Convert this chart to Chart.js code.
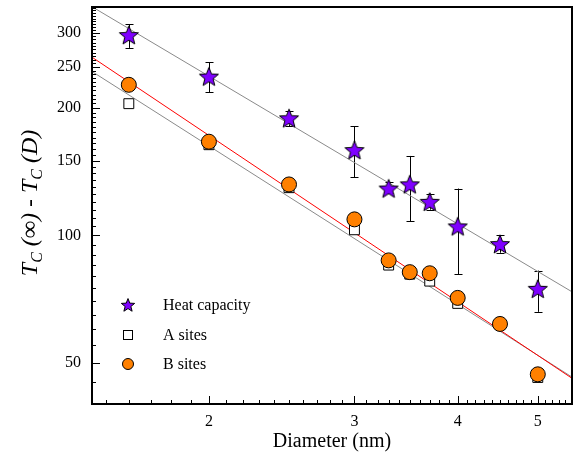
<!DOCTYPE html>
<html><head><meta charset="utf-8">
<script src="https://cdn.jsdelivr.net/npm/chart.js@4/dist/chart.umd.min.js"></script>
<style>html,body{margin:0;padding:0;background:#fff;} #wrap{width:575px;height:464px;position:relative;}</style>
</head><body><div id="wrap"><canvas id="c" width="575" height="464"></canvas></div>
<script>
// ---- data ----
const diameters = [1.6, 2.0, 2.5, 3.0, 3.3, 3.5, 3.7, 4.0, 4.5, 5.0];
const heatCapacity = [297, 237, 189, 159, 129, 132, 120, 105, 95.4, 74.8];
const heatErrHigh = [315, 256, 197, 181, 134, 154, 125.5, 129, 100, 82.6];
const heatErrLow = [277, 218, 181, 137, 126, 108, 115, 81, 91, 66];
const aSites = [204.6, 163.7, 129.6, 103.1, 85.1, 81.0, 78.0, 69.1, 61.6, 46.2];
const bSites = [226.7, 166.4, 131.9, 109.1, 87.3, 81.9, 81.4, 71.2, 61.8, 47.0];
const fitX = [1.444, 5.5];
const fitHeat = [346.5, 73.6];
const fitA = [243.7, 46.3];
const fitB = [263.4, 46.0];
const xTicks = [2, 3, 4, 5];
const yTicks = [50, 100, 150, 200, 250, 300];
const seriesLabels = ['Heat capacity', 'A sites', 'B sites'];
const xTitle = 'Diameter (nm)';

const PURPLE = '#7f00ff', ORANGE = '#ff8000';
const SERIF = '"Liberation Serif", "Times New Roman", serif';

function makeStar(R, fill) {
  const s = Math.ceil(R * 2 + 4);
  const c = document.createElement('canvas'); c.width = s; c.height = s;
  const g = c.getContext('2d');
  const cx = s / 2, cy = s / 2 + R * 0.08, r = R * 0.43;
  g.beginPath();
  for (let i = 0; i < 10; i++) {
    const a = -Math.PI / 2 + i * Math.PI / 5;
    const rr = i % 2 ? r : R;
    g.lineTo(cx + rr * Math.cos(a), cy + rr * Math.sin(a));
  }
  g.closePath(); g.fillStyle = fill; g.fill();
  g.lineWidth = 1; g.strokeStyle = '#000'; g.lineJoin = 'miter'; g.stroke();
  return c;
}
const starImg = makeStar(10, PURPLE);
const starLegend = makeStar(7, PURPLE);

const pts = (xs, ys) => xs.map((x, i) => ({x: x, y: ys[i]}));

const deco = {
  id: 'deco',
  beforeDatasetsDraw(chart) {
    const ctx = chart.ctx, xs = chart.scales.x, ys = chart.scales.y;
    ctx.save();
    ctx.strokeStyle = '#000'; ctx.lineWidth = 1;
    const a = chart.chartArea;
    ctx.beginPath(); ctx.rect(a.left, a.top, a.right - a.left, a.bottom - a.top); ctx.clip();
    for (let i = 0; i < diameters.length; i++) {
      const px = Math.round(xs.getPixelForValue(diameters[i])) + 0.5;
      const y1 = ys.getPixelForValue(heatErrHigh[i]);
      const y2 = ys.getPixelForValue(heatErrLow[i]);
      ctx.beginPath();
      ctx.moveTo(px, y1); ctx.lineTo(px, y2);
      ctx.moveTo(px - 4, Math.round(y1) + 0.5); ctx.lineTo(px + 4, Math.round(y1) + 0.5);
      ctx.moveTo(px - 4, Math.round(y2) + 0.5); ctx.lineTo(px + 4, Math.round(y2) + 0.5);
      ctx.stroke();
    }
    ctx.restore();
  },
  afterDraw(chart) {
    const ctx = chart.ctx, xs = chart.scales.x, ys = chart.scales.y, a = chart.chartArea;
    ctx.save();
    // ticks
    ctx.strokeStyle = '#000'; ctx.lineWidth = 1;
    ctx.beginPath();
    for (let k = 15; k <= 55; k++) {
      const v = k / 10;
      if (v < xs.min || v > xs.max) continue;
      const major = xTicks.indexOf(v) >= 0;
      const px = Math.round(xs.getPixelForValue(v)) + 0.5;
      ctx.moveTo(px, a.bottom); ctx.lineTo(px, a.bottom - (major ? 8 : 4));
    }
    for (let v = 45; v <= 345; v += 5) {
      if (v < ys.min || v > ys.max) continue;
      const major = yTicks.indexOf(v) >= 0;
      const py = Math.round(ys.getPixelForValue(v)) + 0.5;
      ctx.moveTo(a.left, py); ctx.lineTo(a.left + (major ? 8 : 4), py);
    }
    ctx.stroke();
    // frame
    ctx.lineWidth = 2;
    ctx.strokeRect(a.left, a.top, a.right - a.left, a.bottom - a.top);
    // x title
    ctx.fillStyle = '#000';
    ctx.font = '20px ' + SERIF;
    ctx.textAlign = 'center'; ctx.textBaseline = 'middle';
    ctx.fillText(xTitle, (a.left + a.right) / 2, 442);
    // y title
    const parts = [
      {t: 'T', s: 24, d: 0}, {t: 'C', s: 16, d: 5}, {t: ' (\u221E) - ', s: 24, d: 0},
      {t: 'T', s: 24, d: 0}, {t: 'C', s: 16, d: 5}, {t: ' (D)', s: 24, d: 0}
    ];
    let w = 0;
    parts.forEach(p => { ctx.font = 'italic ' + p.s + 'px ' + SERIF; p.w = ctx.measureText(p.t).width; w += p.w; });
    ctx.translate(37, 203); ctx.rotate(-Math.PI / 2);
    ctx.textAlign = 'left'; ctx.textBaseline = 'alphabetic';
    let x0 = -w / 2;
    parts.forEach(p => { ctx.font = 'italic ' + p.s + 'px ' + SERIF; ctx.fillText(p.t, x0, p.d); x0 += p.w; });
    ctx.setTransform(1, 0, 0, 1, 0, 0);
    // legend
    const rows = [305, 335, 364];
    const lx = 128, tx = 163;
    ctx.drawImage(starLegend, lx - starLegend.width / 2, rows[0] - starLegend.height / 2);
    ctx.lineWidth = 1; ctx.strokeStyle = '#000';
    ctx.fillStyle = '#fff';
    ctx.fillRect(lx - 4.5, rows[1] - 4.5, 9, 9);
    ctx.strokeRect(lx - 4.5, rows[1] - 4.5, 9, 9);
    ctx.beginPath(); ctx.arc(lx, rows[2], 5.5, 0, Math.PI * 2);
    ctx.fillStyle = ORANGE; ctx.fill(); ctx.stroke();
    ctx.fillStyle = '#000'; ctx.font = '16px ' + SERIF;
    ctx.textAlign = 'left'; ctx.textBaseline = 'middle';
    seriesLabels.forEach((l, i) => ctx.fillText(l, tx, rows[i] + 1));
    ctx.restore();
  }
};

new Chart(document.getElementById('c'), {
  type: 'scatter',
  data: {
    datasets: [
      {label: seriesLabels[0], data: pts(diameters, heatCapacity), pointStyle: starImg, pointRadius: 10, order: 1},
      {label: seriesLabels[1], data: pts(diameters, aSites), pointStyle: 'rect', pointRadius: 7,
        backgroundColor: '#fff', borderColor: '#000', borderWidth: 1, order: 3},
      {label: seriesLabels[2], data: pts(diameters, bSites), pointStyle: 'circle', pointRadius: 7.5,
        backgroundColor: ORANGE, borderColor: '#000', borderWidth: 1, order: 2},
      {label: 'fitHeat', data: pts(fitX, fitHeat), showLine: true, borderColor: '#8a8a8a', borderWidth: 1, pointRadius: 0, order: 10},
      {label: 'fitA', data: pts(fitX, fitA), showLine: true, borderColor: '#8a8a8a', borderWidth: 1, pointRadius: 0, order: 11},
      {label: 'fitB', data: pts(fitX, fitB), showLine: true, borderColor: '#ff0000', borderWidth: 1, pointRadius: 0, order: 9}
    ]
  },
  options: {
    responsive: false, animation: false, events: [],
    layout: {autoPadding: false, padding: {top: 7, right: 3, left: 0, bottom: 0}},
    plugins: {legend: {display: false}, tooltip: {enabled: false}, title: {display: false}},
    scales: {
      x: {
        type: 'logarithmic', min: 1.444, max: 5.5,
        grid: {display: false, drawTicks: false}, border: {display: false},
        ticks: {font: {family: SERIF, size: 16}, color: '#000', padding: 8, maxRotation: 0, autoSkip: false,
          callback: v => String(v)},
        afterBuildTicks: s => { s.ticks = xTicks.map(v => ({value: v})); },
        afterFit: s => { s.height = 60; s.paddingLeft = 0; s.paddingRight = 0; s.paddingTop = 0; s.paddingBottom = 0; }
      },
      y: {
        type: 'logarithmic', min: 40, max: 346,
        grid: {display: false, drawTicks: false}, border: {display: false},
        ticks: {font: {family: SERIF, size: 16}, color: '#000', padding: 11, autoSkip: false,
          callback: v => String(v)},
        afterBuildTicks: s => { s.ticks = yTicks.map(v => ({value: v})); },
        afterFit: s => { s.width = 92; s.paddingLeft = 0; s.paddingRight = 0; s.paddingTop = 0; s.paddingBottom = 0; }
      }
    }
  },
  plugins: [deco]
});
</script></body></html>
